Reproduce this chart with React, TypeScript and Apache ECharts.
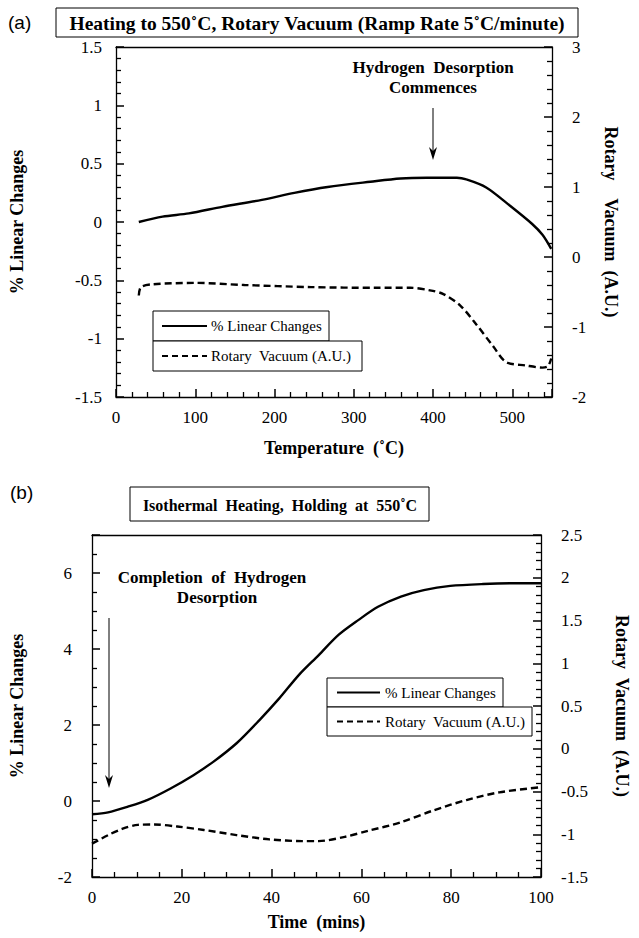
import React, { useEffect, useRef } from "react";
import * as echarts from "echarts";

// (a) Heating to 550°C
const tempLinear: number[] = [28.75, 58.75, 92, 134, 184, 225, 267, 321, 359, 392, 430, 442, 467, 496, 525, 538, 549];
const linearA: number[] = [0.0, 0.046, 0.074, 0.13, 0.19, 0.25, 0.3, 0.345, 0.373, 0.379, 0.379, 0.365, 0.296, 0.145, -0.017, -0.11, -0.23];
const tempVac: number[] = [28.75, 31.5, 46, 100, 162, 246, 329, 371, 396, 413, 434, 455, 476, 492, 517, 538, 545, 549];
const vacuumA: number[] = [-0.55, -0.43, -0.39, -0.37, -0.4, -0.43, -0.44, -0.44, -0.476, -0.53, -0.69, -0.97, -1.28, -1.5, -1.55, -1.58, -1.56, -1.45];

// (b) Isothermal holding at 550°C
const timeLinear: number[] = [0, 3.6, 8.0, 12.4, 17.5, 22.6, 27.0, 32.2, 37.3, 41.7, 46.1, 50.5, 54.9, 59.3, 63.7, 68.8, 73.9, 79.8, 87.1, 94.4, 100];
const linearB: number[] = [-0.35, -0.3, -0.15, 0.03, 0.33, 0.68, 1.03, 1.52, 2.13, 2.7, 3.32, 3.84, 4.37, 4.76, 5.11, 5.38, 5.55, 5.66, 5.71, 5.73, 5.73];
const timeVac: number[] = [0, 3.6, 6.6, 10.2, 13.9, 19.0, 24.9, 32.2, 39.5, 46.8, 50.5, 56.3, 61.5, 68.8, 76.1, 83.4, 90.7, 100];
const vacuumB: number[] = [-1.11, -1.01, -0.94, -0.89, -0.886, -0.91, -0.95, -1.01, -1.06, -1.08, -1.08, -1.03, -0.96, -0.86, -0.72, -0.6, -0.51, -0.45];

const titleA = "Heating to 550\u02daC, Rotary Vacuum (Ramp Rate 5\u02daC/minute)";
const titleB = "Isothermal  Heating,  Holding  at  550\u02daC";
const seriesNames = ["% Linear Changes", "Rotary  Vacuum (A.U.)"];

const SERIF = "Liberation Serif";
const SANS = "Liberation Sans";
const INK = "#000";

function zip(xs: number[], ys: number[]) {
  return xs.map((x, i) => [x, ys[i]]);
}

function axis(extra: any, split: number, margin: number, hideMax = false) {
  return {
    type: "value",
    axisLine: { show: true, onZero: false, lineStyle: { color: INK, width: 1.3 } },
    axisTick: { show: true, inside: true, length: 8, lineStyle: { color: INK, width: 1.5 } },
    minorTick: { show: true, splitNumber: split, length: 5, lineStyle: { color: INK, width: 1.3 } },
    splitLine: { show: false },
    minorSplitLine: { show: false },
    axisLabel: { color: INK, fontFamily: SERIF, fontSize: 17, margin, showMaxLabel: !hideMax },
    nameTextStyle: { color: INK, fontFamily: SERIF, fontSize: 18, fontWeight: "bold" },
    nameLocation: "middle",
    ...extra,
  };
}

// plain top frame line for each panel
function topFrame(gridIndex: number, max: number) {
  return {
    type: "value", gridIndex, position: "top", min: 0, max,
    axisLine: { show: true, onZero: false, lineStyle: { color: INK, width: 1.3 } },
    axisTick: { show: false }, minorTick: { show: false }, axisLabel: { show: false }, splitLine: { show: false },
  };
}

function arrow(x: number, y1: number, y2: number) {
  return [
    { type: "line", shape: { x1: x, y1, x2: x, y2: y2 - 6 }, style: { stroke: INK, lineWidth: 1 } },
    {
      type: "polygon",
      shape: { points: [[x - 4, y2 - 13], [x, y2 - 9], [x + 4, y2 - 13], [x, y2]] },
      style: { fill: INK },
    },
  ];
}

function legendBox(x: number, y: number, w1: number, w2: number, h: number, lx1: number, lx2: number, tx: number) {
  const font = `15px '${SERIF}'`;
  return [
    { type: "rect", shape: { x, y, width: w1, height: h }, style: { fill: "#fff", stroke: INK, lineWidth: 1 } },
    { type: "rect", shape: { x, y: y + h, width: w2, height: h }, style: { fill: "#fff", stroke: INK, lineWidth: 1 } },
    { type: "line", shape: { x1: lx1, y1: y + h / 2, x2: lx2, y2: y + h / 2 }, style: { stroke: INK, lineWidth: 2.2 } },
    { type: "line", shape: { x1: lx1, y1: y + h * 1.5, x2: lx2, y2: y + h * 1.5 }, style: { stroke: INK, lineWidth: 2.2, lineDash: [6, 4] } },
    { type: "text", x: tx, y: y + h / 2, style: { text: seriesNames[0], font, fill: INK, verticalAlign: "middle" } },
    { type: "text", x: tx, y: y + h * 1.5, style: { text: seriesNames[1], font, fill: INK, verticalAlign: "middle" } },
  ];
}

export default function App() {
  const ref = useRef<HTMLDivElement>(null);
  useEffect(() => {
    if (!ref.current) return;
    const chart = echarts.init(ref.current, undefined, { renderer: "svg" });
    const boldFont = `bold 17px '${SERIF}'`;
    const option: any = {
      animation: false,
      backgroundColor: "#fff",
      grid: [
        { left: 112, top: 47, width: 440, height: 350 },
        { left: 88, top: 535, width: 456, height: 342 },
      ],
      xAxis: [
        axis({ gridIndex: 0, position: "bottom", min: 0, max: 550, interval: 100, name: "Temperature  (\u02daC)", nameGap: 42 }, 5, 12, true),
        axis({ gridIndex: 1, position: "bottom", min: 0, max: 100, interval: 20, name: "Time  (mins)", nameGap: 36 }, 4, 12),
        topFrame(0, 550),
        topFrame(1, 100),
      ],
      yAxis: [
        axis({ gridIndex: 0, position: "left", min: -1.5, max: 1.5, interval: 0.5, name: "% Linear Changes", nameGap: 90, nameRotate: 90 }, 5, 14),
        axis({ gridIndex: 0, position: "right", min: -2, max: 3, interval: 1, name: "Rotary    Vacuum  (A.U.)", nameGap: 50, nameRotate: -90 }, 5, 20),
        axis({ gridIndex: 1, position: "left", min: -2, max: 7, interval: 2, name: "% Linear Changes", nameGap: 66, nameRotate: 90 }, 4, 20, true),
        axis({ gridIndex: 1, position: "right", min: -1.5, max: 2.5, interval: 0.5, name: "Rotary  Vacuum  (A.U.)", nameGap: 72, nameRotate: -90 }, 5, 20),
      ],
      series: [
        { type: "line", name: seriesNames[0], xAxisIndex: 0, yAxisIndex: 0, data: zip(tempLinear, linearA), smooth: 0.3, showSymbol: false, lineStyle: { color: INK, width: 2.4 } },
        { type: "line", name: seriesNames[1], xAxisIndex: 0, yAxisIndex: 1, data: zip(tempVac, vacuumA), smooth: 0.3, showSymbol: false, lineStyle: { color: INK, width: 2.4, type: [7, 4] } },
        { type: "line", name: seriesNames[0], xAxisIndex: 1, yAxisIndex: 2, data: zip(timeLinear, linearB), smooth: 0.3, showSymbol: false, lineStyle: { color: INK, width: 2.4 } },
        { type: "line", name: seriesNames[1], xAxisIndex: 1, yAxisIndex: 3, data: zip(timeVac, vacuumB), smooth: 0.3, showSymbol: false, lineStyle: { color: INK, width: 2.4, type: [7, 4] } },
      ],
      graphic: [
        // panel labels and titles
        { type: "text", x: 8, y: 22, style: { text: "(a)", font: `19px '${SANS}'`, fill: INK, verticalAlign: "middle" } },
        { type: "rect", shape: { x: 56, y: 8, width: 522, height: 29 }, style: { fill: "#fff", stroke: INK, lineWidth: 1 } },
        { type: "text", x: 317, y: 23, style: { text: titleA, font: `bold 19.5px '${SERIF}'`, fill: INK, align: "center", verticalAlign: "middle" } },
        { type: "text", x: 10, y: 492, style: { text: "(b)", font: `19px '${SANS}'`, fill: INK, verticalAlign: "middle" } },
        { type: "rect", shape: { x: 130, y: 487, width: 299, height: 34 }, style: { fill: "#fff", stroke: INK, lineWidth: 1 } },
        { type: "text", x: 280, y: 505, style: { text: titleB, font: `bold 16px '${SERIF}'`, fill: INK, align: "center", verticalAlign: "middle" } },
        // annotations
        { type: "text", x: 433, y: 67, style: { text: "Hydrogen  Desorption", font: boldFont, fill: INK, align: "center", verticalAlign: "middle" } },
        { type: "text", x: 433, y: 87, style: { text: "Commences", font: boldFont, fill: INK, align: "center", verticalAlign: "middle" } },
        ...arrow(433, 108, 160),
        { type: "text", x: 212, y: 577, style: { text: "Completion  of  Hydrogen", font: boldFont, fill: INK, align: "center", verticalAlign: "middle" } },
        { type: "text", x: 217, y: 597, style: { text: "Desorption", font: boldFont, fill: INK, align: "center", verticalAlign: "middle" } },
        ...arrow(109, 618, 788),
        // legends
        ...legendBox(153, 311, 176, 209, 30, 162, 207, 211),
        ...legendBox(327, 678, 176, 205, 29, 337, 380, 385),
      ],
    };
    chart.setOption(option);
    return () => chart.dispose();
  }, []);
  return (
    <div
      ref={ref}
      style={{ position: "absolute", left: 0, top: 0, width: 639, height: 938, background: "#fff" }}
    />
  );
}
